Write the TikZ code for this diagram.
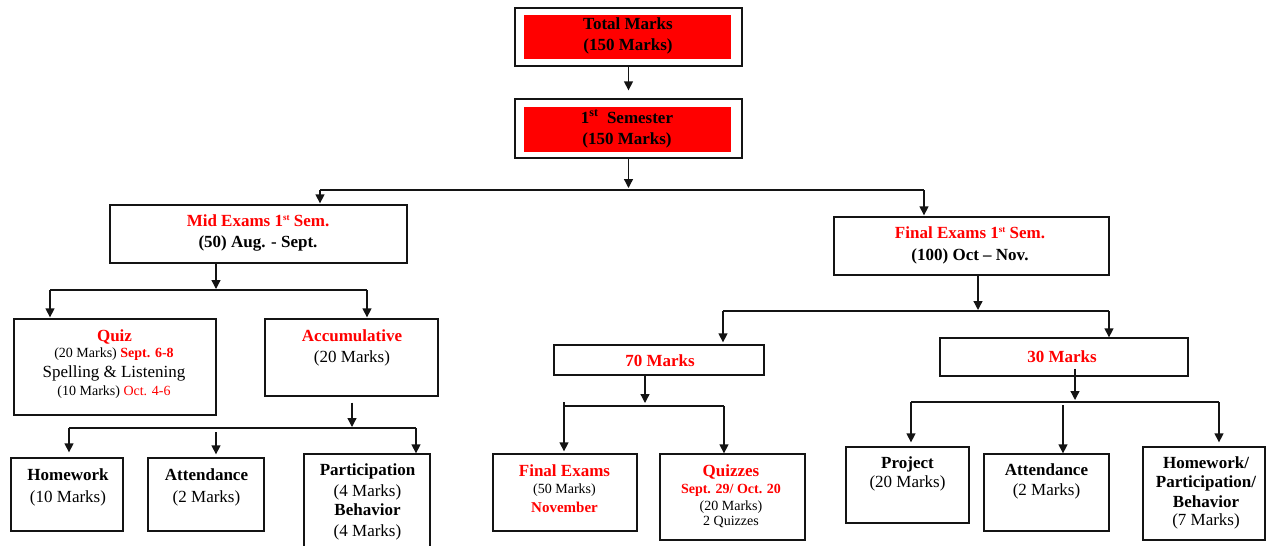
\documentclass[tikz,border=0pt]{standalone}
\usepackage{fontspec}
\setmainfont{Liberation Serif}
\usetikzlibrary{arrows.meta}
\definecolor{markred}{RGB}{255,0,0}
\definecolor{ink}{RGB}{20,20,20}

\tikzset{
  box/.style={draw=ink, line width=1.3pt, rectangle, inner sep=0pt},
  redpanel/.style={fill=markred, rectangle, inner sep=0pt},
  conn/.style={draw=ink, line width=1.3pt},
  arr/.style={conn, -{Triangle[width=9pt,length=9pt]}},
  txt/.style={font=\fontsize{17}{20}\selectfont, anchor=base, inner sep=0pt},
  txtb/.style={txt, font=\fontsize{17}{20}\selectfont\bfseries},
  txtr/.style={txtb, text=markred},
  sml/.style={font=\fontsize{14}{16}\selectfont, anchor=base, inner sep=0pt},
  smlr/.style={sml, font=\fontsize{14}{16}\selectfont\bfseries, text=markred},
}

\begin{document}
\begin{tikzpicture}[x=1pt,y=-1pt]
\useasboundingbox (0,0) rectangle (1266,546);
\clip (0,0) rectangle (1266,546);

% ---- top: total and semester ----
\node[box, minimum width=227pt, minimum height=58pt] (total) at (628.5,37) {};
\node[redpanel, minimum width=207pt, minimum height=44pt] (totalfill) at (627.5,37) {};
\node[txtb] (totalA) at (628,29) {Total Marks};
\node[txtb] (totalB) at (628,50) {(150 Marks)};

\node[box, minimum width=227pt, minimum height=59pt] (sem) at (628.5,128.5) {};
\node[redpanel, minimum width=207pt, minimum height=45pt] (semfill) at (627.5,129.5) {};
\node[txtb] (semA) at (627,123) {1\textsuperscript{st}\ \ Semester};
\node[txtb] (semB) at (627,144) {(150 Marks)};

% ---- mid-term and final ----
\node[box, minimum width=297pt, minimum height=58pt] (mid) at (258.5,234) {};
\node[txtr] (midA) at (258,226) {Mid Exams 1{\fontsize{9}{10}\selectfont\raisebox{6pt}{st}} Sem.};
\node[txtb] (midB) at (258,247) {(50) Aug. - Sept.};

\node[box, minimum width=275pt, minimum height=58pt] (fin) at (971.5,246) {};
\node[txtr] (finA) at (970,238) {Final Exams 1{\fontsize{9}{10}\selectfont\raisebox{6pt}{st}} Sem.};
\node[txtb] (finB) at (970,260) {(100) Oct -- Nov.};

% ---- mid-term parts ----
\node[box, minimum width=202pt, minimum height=96pt] (quiz) at (115,367) {};
\node[txtr] (quizA) at (114.5,341) {Quiz};
\node[sml] (quizB) at (114,357) {(20 Marks) \textcolor{markred}{\bfseries Sept. 6-8}};
\node[txt] (quizC) at (114,377) {Spelling \& Listening};
\node[sml] (quizD) at (114,395) {(10 Marks) \textcolor{markred}{Oct. 4-6}};

\node[box, minimum width=173pt, minimum height=77pt] (acc) at (351.5,357.5) {};
\node[txtr] (accA) at (352,341) {Accumulative};
\node[txt] (accB) at (352,362) {(20 Marks)};

\node[box, minimum width=112pt, minimum height=73pt] (hw) at (67,494.5) {};
\node[txtb] (hwA) at (68,480) {Homework};
\node[txt] (hwB) at (68,502) {(10 Marks)};

\node[box, minimum width=116pt, minimum height=73pt] (att) at (206,494.5) {};
\node[txtb] (attA) at (206.5,480) {Attendance};
\node[txt] (attB) at (206.5,502) {(2 Marks)};

\node[box, minimum width=126pt, minimum height=98pt] (par) at (367,503) {};
\node[txtb] (parA) at (367.5,475) {Participation};
\node[txt] (parB) at (367.5,496) {(4 Marks)};
\node[txtb] (parC) at (367.5,515) {Behavior};
\node[txt] (parD) at (367.5,536) {(4 Marks)};

% ---- final parts ----
\node[box, minimum width=210pt, minimum height=30pt] (seventy) at (659,360) {};
\node[txtr] (seventyA) at (660,366) {70 Marks};

\node[box, minimum width=248pt, minimum height=38pt] (thirty) at (1064,357) {};
\node[txtr] (thirtyA) at (1062,362) {30 Marks};

\node[box, minimum width=144pt, minimum height=77pt] (fex) at (565,492.5) {};
\node[txtr] (fexA) at (564.5,476) {Final Exams};
\node[sml] (fexB) at (564.5,493) {(50 Marks)};
\node[smlr] (fexC) at (564.5,512) {\fontsize{15}{17}\selectfont November};

\node[box, minimum width=145pt, minimum height=86pt] (qz) at (732.5,497) {};
\node[txtr] (qzA) at (731,476) {Quizzes};
\node[smlr] (qzB) at (731,493) {Sept. 29/ Oct. 20};
\node[sml] (qzC) at (731,510) {(20 Marks)};
\node[sml] (qzD) at (731,525) {2 Quizzes};

\node[box, minimum width=123pt, minimum height=76pt] (proj) at (907.5,485) {};
\node[txtb] (projA) at (907.5,468) {Project};
\node[txt] (projB) at (907.5,487) {(20 Marks)};

\node[box, minimum width=125pt, minimum height=77pt] (att2) at (1046.5,492.5) {};
\node[txtb] (att2A) at (1046.5,475) {Attendance};
\node[txt] (att2B) at (1046.5,495) {(2 Marks)};

\node[box, minimum width=122pt, minimum height=93pt] (hpb) at (1204,493.5) {};
\node[txtb] (hpbA) at (1206,468) {Homework/};
\node[txtb] (hpbB) at (1206,487) {Participation/};
\node[txtb] (hpbC) at (1206,507) {Behavior};
\node[txt] (hpbD) at (1206,525) {(7 Marks)};

% ---- junction points of the connector buses ----
\coordinate (busA) at (630,190);
\coordinate (busAL) at (320,190);
\coordinate (busAR) at (924,190);
\coordinate (busB) at (216,290);
\coordinate (busBL) at (50,290);
\coordinate (busBR) at (367,290);
\coordinate (busC) at (352,428);
\coordinate (busC1) at (69,428);
\coordinate (busC2) at (216,428);
\coordinate (busC3) at (416,428);
\coordinate (busD) at (978,311);
\coordinate (busDL) at (723,311);
\coordinate (busDR) at (1109,311);
\coordinate (busE) at (645,406);
\coordinate (busEL) at (564,406);
\coordinate (busER) at (724,406);
\coordinate (busF) at (1075,402);
\coordinate (busF1) at (911,402);
\coordinate (busF2) at (1063,402);
\coordinate (busF3) at (1219,402);

% ---- connectors ----
\draw[arr, shorten >=8pt] (total.south) -- (sem.north);

\draw[arr, shorten >=2pt] (sem.south) -- (sem.south |- busA);
\draw[conn] (busAL) -- (busAR);
\draw[arr, shorten >=1pt] (busAL) -- (busAL |- mid.north);
\draw[arr, shorten >=1pt] (busAR) -- (busAR |- fin.north);

\draw[arr, shorten >=1pt] (mid.south -| busB) -- (busB);
\draw[conn] (busBL) -- (busBR);
\draw[arr, shorten >=1pt] (busBL) -- (busBL |- quiz.north);
\draw[arr, shorten >=1pt] (busBR) -- (busBR |- acc.north);

\draw[arr, shorten <=6pt, shorten >=1pt] (acc.south -| busC) -- (busC);
\draw[conn] (busC1) -- (busC3);
\draw[arr, shorten >=5pt] (busC1) -- (busC1 |- hw.north);
\draw[arr, shorten <=4pt, shorten >=3pt] (busC2) -- (busC2 |- att.north);
\draw[arr] (busC3) -- (busC3 |- par.north);

\draw[arr, shorten >=1pt] (fin.south -| busD) -- (busD);
\draw[conn] (busDL) -- (busDR);
\draw[arr, shorten >=2pt] (busDL) -- (busDL |- seventy.north);
\draw[arr] (busDR) -- (busDR |- thirty.north);

\draw[arr, shorten >=3pt] (seventy.south -| busE) -- (busE);
\draw[conn] (busEL) -- (busER);
\draw[arr, shorten <=-4pt, shorten >=2pt] (busEL) -- (busEL |- fex.north);
\draw[arr] (busER) -- (busER |- qz.north);

\draw[arr, shorten <=-8pt, shorten >=2pt] (thirty.south -| busF) -- (busF);
\draw[conn] (busF1) -- (busF3);
\draw[arr, shorten >=4pt] (busF1) -- (busF1 |- proj.north);
\draw[arr, shorten <=3pt] (busF2) -- (busF2 |- att2.north);
\draw[arr, shorten >=4pt] (busF3) -- (busF3 |- hpb.north);
\end{tikzpicture}
\end{document}
